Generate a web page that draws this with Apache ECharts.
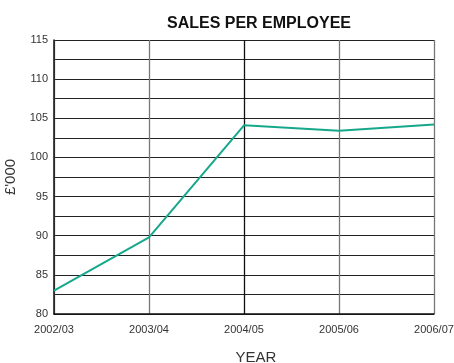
<!DOCTYPE html>
<html>
<head>
<meta charset="utf-8">
<script src="https://cdn.jsdelivr.net/npm/echarts@6/dist/echarts.min.js"></script>
<style>html,body{margin:0;padding:0;background:#fff;}#c{width:454px;height:363px;}</style>
</head>
<body>
<div id="c"></div>
<script>
const categories = ['2002/03', '2003/04', '2004/05', '2005/06', '2006/07'];
const salesPerEmployee = [83.0, 89.8, 104.1, 103.4, 104.2];
const yMin = 80, yMax = 115, yStep = 2.5;

const chart = echarts.init(document.getElementById('c'), null, {renderer: 'canvas'});
chart.setOption({
  backgroundColor: '#fff',
  animation: false,
  title: {
    text: 'SALES PER EMPLOYEE',
    left: 254, top: 11, textAlign: 'center',
    textStyle: {fontFamily: 'Liberation Sans, Arial, sans-serif', fontSize: 16, fontWeight: 'bold', color: '#111'}
  },
  grid: {left: 54, right: 20, top: 40, bottom: 49, containLabel: false, outerBoundsMode: 'none'},
  xAxis: {
    type: 'category', data: categories, boundaryGap: false,
    name: 'YEAR', nameLocation: 'middle', nameGap: 36,
    nameTextStyle: {fontFamily: 'Liberation Sans, Arial, sans-serif', fontSize: 15, color: '#333', padding: [0, 0, 0, 24]},
    axisLine: {lineStyle: {color: '#111', width: 1.5}},
    axisTick: {show: false},
    axisLabel: {fontFamily: 'Liberation Sans, Arial, sans-serif', fontSize: 11, color: '#333', margin: 10, hideOverlap: false},
    splitLine: {show: true, lineStyle: {color: ['#777', '#777', '#111', '#777', '#777'], width: 1.3}}
  },
  yAxis: {
    type: 'value', min: yMin, max: yMax, interval: yStep,
    name: "£'000", nameLocation: 'middle', nameRotate: 90, nameGap: 30,
    nameTextStyle: {fontFamily: 'Liberation Sans, Arial, sans-serif', fontSize: 15, color: '#333'},
    axisLine: {show: true, lineStyle: {color: '#111', width: 1.5}},
    axisTick: {show: false},
    axisLabel: {
      fontFamily: 'Liberation Sans, Arial, sans-serif', fontSize: 11, color: '#333', margin: 6,
      formatter: v => (v % 5 === 0 ? String(v) : '')
    },
    splitLine: {show: true, lineStyle: {color: '#222', width: 1.2}}
  },
  series: [{
    type: 'line', data: salesPerEmployee, symbol: 'none',
    lineStyle: {color: '#17a88c', width: 2}
  }]
});
</script>
</body>
</html>
